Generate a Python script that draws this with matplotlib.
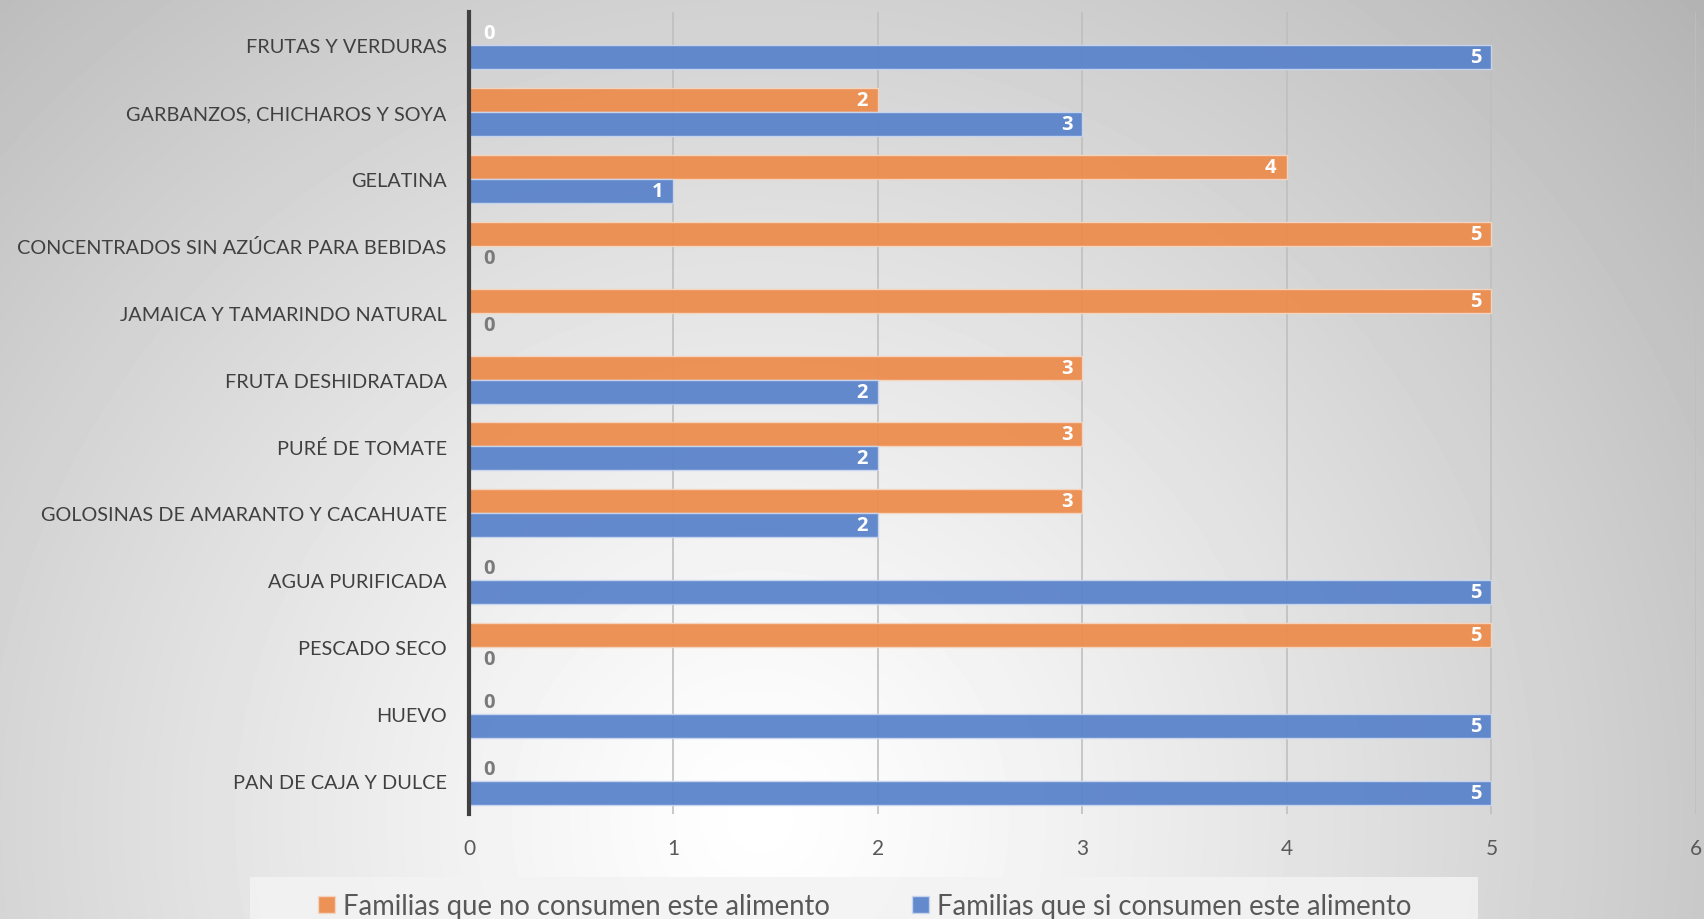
import numpy as np
import matplotlib.pyplot as plt
from matplotlib.patches import Rectangle

categorias = [
    'FRUTAS Y VERDURAS',
    'GARBANZOS, CHICHAROS Y SOYA',
    'GELATINA',
    'CONCENTRADOS SIN AZÚCAR PARA BEBIDAS',
    'JAMAICA Y TAMARINDO NATURAL',
    'FRUTA DESHIDRATADA',
    'PURÉ DE TOMATE',
    'GOLOSINAS DE AMARANTO Y CACAHUATE',
    'AGUA PURIFICADA',
    'PESCADO SECO',
    'HUEVO',
    'PAN DE CAJA Y DULCE',
]
no_consumen = [0, 2, 4, 5, 5, 3, 3, 3, 0, 5, 0, 0]
si_consumen = [5, 3, 1, 0, 0, 2, 2, 2, 5, 0, 5, 5]
serie_no = 'Familias que no consumen este alimento'
serie_si = 'Familias que si consumen este alimento'

naranja = '#ED8D4E'
azul = '#5B84CB'
gris_txt = '#595959'

plt.rcParams['font.family'] = ['Lato', 'DejaVu Sans']

fig = plt.figure(figsize=(17.04, 9.2), dpi=100)

# fondo con degradado radial
bg = fig.add_axes([0, 0, 1, 1], zorder=-10)
w, h = 1704, 920
xx, yy = np.meshgrid(np.arange(w), np.arange(h))
r = np.hypot(xx - 760, yy - 820) / 1150
shade = np.clip(1 - 0.27 * r ** 1.2, 0, 1)
bg.imshow(shade, cmap='gray', vmin=0, vmax=1, extent=[0, 1, 0, 1], aspect='auto', origin='upper')
bg.axis('off')

# franja clara detrás de la leyenda
fig.patches.append(Rectangle((0.1467, 0), 0.7207, 0.0457, transform=fig.transFigure,
                             facecolor='#f3f3f3', edgecolor='none', alpha=0.85, zorder=-5))

ax = fig.add_axes([0.2752, 0.1141, 0.7201, 0.8718])
ax.set_facecolor('none')

n = len(categorias)
pos = np.arange(n)[::-1]
alto = 0.36

b1 = ax.barh(pos + alto / 2, no_consumen, height=alto, color=naranja, alpha=0.95,
             edgecolor='#f4d6c2', linewidth=1, label=serie_no, zorder=2)
b2 = ax.barh(pos - alto / 2, si_consumen, height=alto, color=azul, alpha=0.95,
             edgecolor='#c9d6ee', linewidth=1, label=serie_si, zorder=2)

# etiquetas de valor
for i in range(n):
    for val, y in ((no_consumen[i], pos[i] + alto / 2), (si_consumen[i], pos[i] - alto / 2)):
        if val > 0:
            ax.text(val - 0.05, y, str(val), ha='right', va='center', color='white',
                    fontsize=14.5, fontweight='bold', family='Open Sans', zorder=4)
        else:
            c = 'white' if i == 0 else '#7a7a7a'
            ax.text(0.07, y, str(val), ha='left', va='center', color=c,
                    fontsize=14.5, fontweight='bold', family='Open Sans', zorder=4)

ax.set_xlim(0, 6)
ax.set_ylim(-0.5, n - 0.5)
ax.set_xticks(range(7))
ax.set_yticks(pos)
ax.set_yticklabels(categorias)
ax.tick_params(axis='y', length=0, pad=16, labelsize=14.3, labelcolor='#404040')
ax.tick_params(axis='x', length=0, pad=17, labelsize=15, labelcolor=gris_txt)
ax.grid(axis='x', color='#bfbfbf', linewidth=1.2, zorder=1)
ax.set_axisbelow(True)
for s in ['top', 'right', 'bottom']:
    ax.spines[s].set_visible(False)
ax.spines['left'].set_color('#404040')
ax.spines['left'].set_linewidth(3)
ax.spines['left'].set_zorder(5)

leg = fig.legend(handles=[b1, b2], loc='center', bbox_to_anchor=(0.5075, 0.014),
                 ncol=2, frameon=False, fontsize=19.8, handlelength=0.6, handleheight=0.6,
                 handletextpad=0.3, columnspacing=3.0, borderpad=0.2,
                 labelcolor=gris_txt)

fig.savefig('out.png', dpi=100)
